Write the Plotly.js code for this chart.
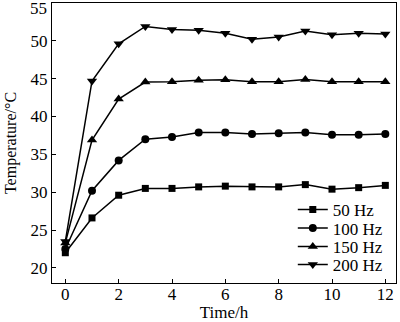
<!DOCTYPE html>
<html>
<head>
<meta charset="utf-8">
<script src="https://cdn.plot.ly/plotly-3.0.1.min.js"></script>
<style>html,body{margin:0;padding:0;background:#fff;}#chart{width:400px;height:322px;}</style>
</head>
<body>
<div id="chart"></div>
<script>
var hours = [0,1,2,3,4,5,6,7,8,9,10,11,12];
var seriesNames = ["50 Hz","100 Hz","150 Hz","200 Hz"];
var temp50 = [22.0,26.6,29.6,30.5,30.5,30.7,30.8,30.7,30.7,31.0,30.4,30.6,30.9];
var temp100 = [22.5,30.2,34.2,37.0,37.3,37.9,37.9,37.7,37.8,37.9,37.6,37.6,37.7];
var temp150 = [23.3,36.9,42.3,44.55,44.6,44.8,44.85,44.6,44.6,44.9,44.6,44.6,44.6];
var temp200 = [23.5,44.7,49.6,51.9,51.5,51.4,51.0,50.2,50.5,51.3,50.8,51.0,50.9];
var yTicks = [20,25,30,35,40,45,50];
var xTicks = [0,2,4,6,8,10,12];

var symbols = ["square","circle","triangle-up","triangle-down"];
var sizes = [7,8,9,9];
var legendIds = ["legend","legend2","legend3","legend4"];
var legendY = [0.2607,0.1946,0.1286,0.0643];
var allData = [temp50,temp100,temp150,temp200];
var traces = allData.map(function(vals,i){
  return {x:hours,y:vals,name:seriesNames[i],type:"scatter",mode:"lines+markers",
    legend:legendIds[i],
    line:{color:"#000",width:1.5},
    marker:{symbol:symbols[i],size:sizes[i],color:"#000"}};
});
var font = {family:"Liberation Serif, Times New Roman, serif",size:16,color:"#000"};
var tfont = {family:"Liberation Serif, Times New Roman, serif",size:17,color:"#000"};
var layout = {
  width:400,height:322,
  margin:{l:52,r:4,t:3,b:39},
  paper_bgcolor:"#fff",plot_bgcolor:"#fff",
  font:font,
  showlegend:true,
  xaxis:{range:[-0.5,12.4],tickvals:xTicks,ticks:"inside",ticklen:4,tickcolor:"#000",
    showline:true,linecolor:"#000",linewidth:1,mirror:true,showgrid:false,zeroline:false,
    ticklabelstandoff:-4,
    tickfont:tfont,title:{text:"Time/h",font:tfont,standoff:5}},
  yaxis:{range:[18,55],tickvals:yTicks,ticks:"inside",ticklen:4,tickcolor:"#000",
    showline:true,linecolor:"#000",linewidth:1,mirror:true,showgrid:false,zeroline:false,
    tickfont:tfont,title:{text:"Temperature/°C",font:font,standoff:9}},
  annotations:[{text:"55",xref:"paper",yref:"y",x:0,y:55,xanchor:"right",yanchor:"middle",
    xshift:-3,yshift:-5,showarrow:false,font:tfont}]
};
legendIds.forEach(function(id,i){
  layout[id] = {x:0.70,y:legendY[i],xanchor:"left",yanchor:"middle",bgcolor:"rgba(0,0,0,0)",font:tfont};
});
Plotly.newPlot("chart",traces,layout,{staticPlot:true});
</script>
</body>
</html>
